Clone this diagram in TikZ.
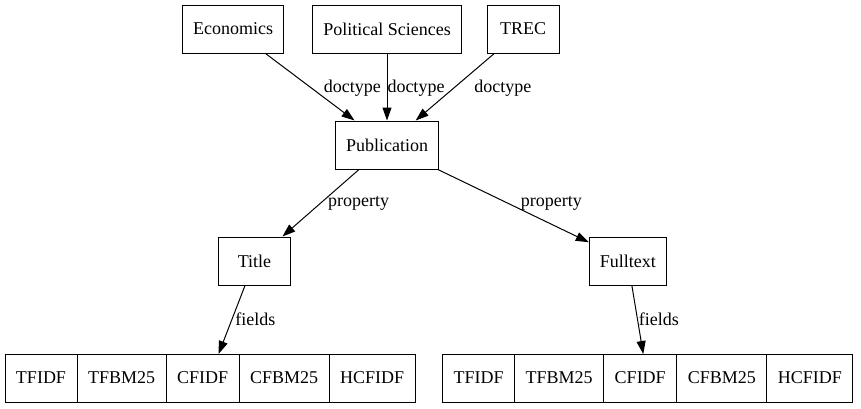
\documentclass[tikz,border=0pt]{standalone}
\usepackage{fontspec}
\setmainfont{Liberation Serif}
\usetikzlibrary{positioning,arrows.meta}

\tikzset{
  box/.style={draw, line width=1pt, minimum width=72pt, minimum height=48pt,
    inner xsep=10.5pt, font=\fontsize{18}{21}\selectfont},
  cell/.style={box, minimum width=0pt, inner xsep=11pt, outer sep=0pt},
  rel/.style={-{Triangle[length=13pt,width=9pt]}, line width=1pt},
  lab/.style={inner sep=0pt, font=\fontsize{18}{21}\selectfont}
}

\begin{document}
\begin{tikzpicture}[x=1pt, y=-1pt]
  \useasboundingbox (0,0) rectangle (861,408);

  \node[box] (econ) at (233,29) {Economics};
  \node[box] (polsci) at (387,29) {Political Sciences};
  \node[box] (trec) at (523,29) {TREC};

  \node[box] (pub) at (387,145) {Publication};
  \draw[rel] (econ) -- node[lab, pos=0.515, right=12pt] {doctype} (pub);
  \draw[rel] (polsci) -- node[lab, pos=0.515, right=0pt] {doctype} (pub);
  \draw[rel] (trec) -- node[lab, pos=0.515, right=20pt] {doctype} (pub);

  \node[box] (title) at (254.5,261) {Title};
  \node[box] (fulltext) at (627.8,261) {Fulltext};
  \draw[rel] (pub) -- node[lab, pos=0.5, right=7pt] {property} (title);
  \draw[rel] (pub) -- node[lab, pos=0.467, right=12pt] {property} (fulltext);

  % fields of the title
  \node[cell, anchor=west] (ttfidf) at (5,378) {TFIDF};
  \node[cell, right=0pt of ttfidf] (ttfbm) {TFBM25};
  \node[cell, right=0pt of ttfbm] (tcfidf) {CFIDF};
  \node[cell, right=0pt of tcfidf] (tcfbm) {CFBM25};
  \node[cell, right=0pt of tcfbm] (thcfidf) {HCFIDF};
  \draw[rel] (title) -- node[lab, pos=0.493, right=3pt] {fields} ([xshift=16pt]tcfidf.north);

  % fields of the fulltext
  \node[cell, anchor=west] (ftfidf) at (442.7,378) {TFIDF};
  \node[cell, right=0pt of ftfidf] (ftfbm) {TFBM25};
  \node[cell, right=0pt of ftfbm] (fcfidf) {CFIDF};
  \node[cell, right=0pt of fcfidf] (fcfbm) {CFBM25};
  \node[cell, right=0pt of fcfbm] (fhcfidf) {HCFIDF};
  \draw[rel] (fulltext) -- node[lab, pos=0.493, right=1pt] {fields} ([xshift=3pt]fcfidf.north);
\end{tikzpicture}
\end{document}
